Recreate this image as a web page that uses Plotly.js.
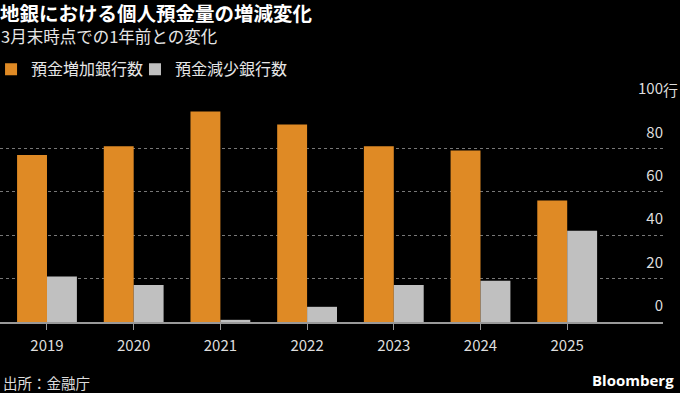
<!DOCTYPE html>
<html>
<head>
<meta charset="utf-8">
<script src="https://cdn.plot.ly/plotly-3.0.1.min.js"></script>
<style>
html,body{margin:0;padding:0;background:#000;}
#chart{width:680px;height:393px;}
</style>
</head>
<body>
<div id="chart"></div>
<script>
const years = ["2019","2020","2021","2022","2023","2024","2025"];
const increaseBanks = [77, 81, 97, 91, 81, 79, 56];
const decreaseBanks = [21, 17, 1, 7, 17, 19, 42];
const yTickVals = [0, 20, 40, 60, 80, 100];
const yTickText = ["0", "20", "40", "60", "80", "100"];
const seriesNames = ["預金増加銀行数", "預金減少銀行数"];

const FONT = '"Noto Sans CJK JP", "Noto Sans", sans-serif';

const traces = [
  {type:'bar', name:seriesNames[0], x:years, y:increaseBanks, legend:'legend',
   marker:{color:'#DF8A25'}, hoverinfo:'x+y'},
  {type:'bar', name:seriesNames[1], x:years, y:decreaseBanks, legend:'legend2',
   marker:{color:'#C0C0C0'}, hoverinfo:'x+y'}
];

const legendStyle = {orientation:'h', xanchor:'left', y:1.243, yanchor:'top',
  yref:'paper', font:{family:FONT, size:16, color:'#e6e6e6'},
  bgcolor:'rgba(0,0,0,0)', itemclick:false, itemdoubleclick:false};

const layout = {
  width:680, height:393,
  paper_bgcolor:'#000', plot_bgcolor:'#000',
  font:{family:FONT, color:'#dddddd', size:15},
  margin:{l:0, r:17, t:105, b:71, autoexpand:false},
  barmode:'group', bargap:0.31, bargroupgap:0,
  title:{
    text:'<b>地銀における個人預金量の増減変化</b>',
    font:{family:FONT, size:19.5, color:'#ffffff'},
    x:0, xref:'paper', xanchor:'left',
    y:0.963, yref:'container', yanchor:'middle'
  },
  showlegend:true,
  legend:Object.assign({}, legendStyle, {x:-0.0135}),
  legend2:Object.assign({}, legendStyle, {x:0.2036}),
  xaxis:{type:'category', range:[-0.542, 7.105], fixedrange:true,
         showline:true, linecolor:'#999999', linewidth:1.5,
         ticks:'outside', ticklen:6, tickcolor:'#999999', tickwidth:1,
         ticklabelstandoff:3,
         showgrid:false, zeroline:false,
         tickfont:{family:FONT, size:15, color:'#dddddd'}},
  yaxis:{side:'right', range:[0,100], fixedrange:true,
         tickvals:yTickVals, ticktext:yTickText,
         ticklabelposition:'inside', ticklabelstandoff:-3, ticklabelshift:-16,
         ticklabeloverflow:'allow',
         ticks:'', showline:false, zeroline:false,
         showgrid:true, gridcolor:'#777777', gridwidth:1, griddash:'dot',
         tickfont:{family:FONT, size:15, color:'#dddddd'}},
  annotations:[
    {text:'3月末時点での1年前との変化', xref:'paper', yref:'paper', x:0, y:1,
     xanchor:'left', yanchor:'middle', yshift:69, xshift:-1, showarrow:false,
     font:{family:FONT, size:16.5, color:'#e6e6e6'}},
    {text:'行', xref:'paper', yref:'y', x:1, y:100, xanchor:'left', yanchor:'middle',
     yshift:16, xshift:-2, showarrow:false, font:{family:FONT, size:15, color:'#dddddd'}},
    {text:'出所：金融庁', xref:'paper', yref:'paper', x:0, y:0, xanchor:'left', yanchor:'middle',
     yshift:-60, xshift:1, showarrow:false, font:{family:FONT, size:14.5, color:'#dddddd'}},
    {text:'<b>Bloomberg</b>', xref:'paper', yref:'paper', x:1, y:0, xanchor:'right', yanchor:'middle',
     yshift:-58, xshift:13, showarrow:false, font:{family:'"Open Sans", "Noto Sans", sans-serif', size:15, color:'#ffffff'}}
  ]
};

Plotly.newPlot('chart', traces, layout, {staticPlot:true, displayModeBar:false});
</script>
</body>
</html>
